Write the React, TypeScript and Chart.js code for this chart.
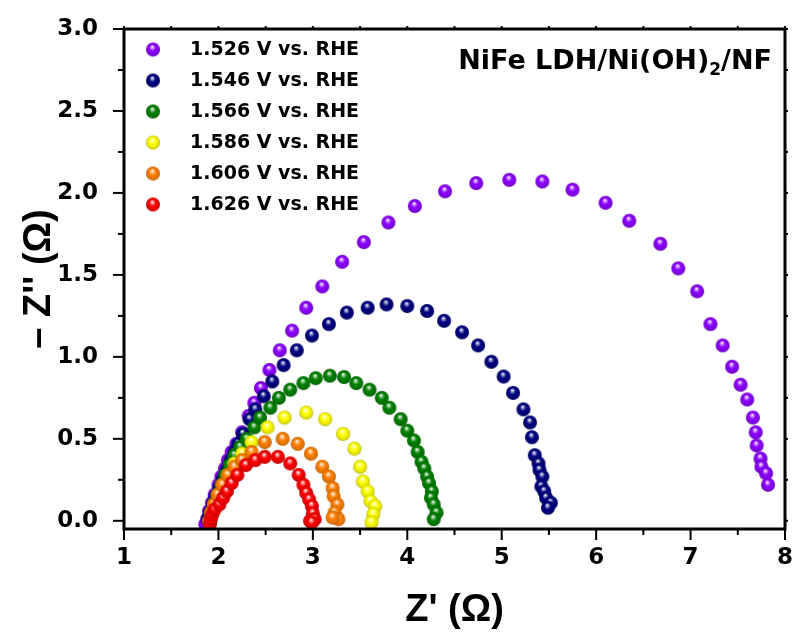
import React, { useEffect, useRef } from 'react';
import { Chart, registerables } from 'chart.js';
Chart.register(...registerables);

const SERIES_LABELS = ['1.526 V vs. RHE', '1.546 V vs. RHE', '1.566 V vs. RHE', '1.586 V vs. RHE', '1.606 V vs. RHE', '1.626 V vs. RHE'];
const SERIES_COLORS = ['#8C00FF', '#000080', '#008000', '#FFFF00', '#FF8000', '#FF0000'];

const V1526_X = [1.86,1.88,1.90,1.93,1.96,2.00,2.03,2.07,2.10,2.14,2.19,2.25,2.32,2.38,2.45,2.54,2.65,2.78,2.93,3.10,3.31,3.54,3.80,4.08,4.40,4.73,5.08,5.43,5.75,6.10,6.35,6.68,6.87,7.07,7.21,7.34,7.44,7.53,7.60,7.66,7.69,7.70,7.74,7.75,7.80,7.82];
const V1526_Y = [-0.02,0.01,0.06,0.11,0.16,0.22,0.27,0.32,0.37,0.42,0.47,0.54,0.64,0.72,0.81,0.92,1.04,1.16,1.30,1.43,1.58,1.70,1.82,1.92,2.01,2.06,2.08,2.07,2.02,1.94,1.83,1.69,1.54,1.40,1.20,1.07,0.94,0.83,0.74,0.63,0.54,0.46,0.38,0.33,0.29,0.22];

const V1546_X = [1.89,1.91,1.94,1.97,2.01,2.05,2.09,2.13,2.17,2.21,2.26,2.33,2.39,2.48,2.57,2.69,2.83,2.99,3.17,3.36,3.58,3.78,4.00,4.21,4.39,4.58,4.75,4.89,5.02,5.12,5.23,5.30,5.32,5.35,5.39,5.40,5.43,5.42,5.45,5.47,5.52,5.49];
const V1546_Y = [0.01,0.05,0.10,0.15,0.20,0.26,0.31,0.37,0.42,0.47,0.53,0.62,0.68,0.76,0.85,0.95,1.04,1.13,1.20,1.27,1.30,1.32,1.31,1.28,1.22,1.15,1.07,0.97,0.88,0.78,0.68,0.60,0.51,0.40,0.35,0.31,0.27,0.21,0.18,0.14,0.11,0.08];

const V1566_X = [1.90,1.92,1.95,1.99,2.03,2.07,2.12,2.17,2.23,2.30,2.38,2.44,2.55,2.64,2.76,2.90,3.03,3.18,3.33,3.46,3.60,3.73,3.81,3.93,4.00,4.07,4.11,4.15,4.18,4.21,4.23,4.26,4.25,4.28,4.31,4.28];
const V1566_Y = [0.00,0.05,0.10,0.16,0.22,0.28,0.34,0.40,0.45,0.50,0.57,0.63,0.69,0.75,0.80,0.84,0.87,0.885,0.877,0.84,0.80,0.75,0.69,0.62,0.55,0.49,0.42,0.36,0.32,0.27,0.23,0.18,0.14,0.10,0.05,0.01];

const V1586_X = [1.91,1.93,1.96,2.00,2.05,2.10,2.17,2.25,2.35,2.52,2.70,2.93,3.13,3.32,3.44,3.50,3.53,3.58,3.61,3.66,3.64,3.62];
const V1586_Y = [-0.01,0.04,0.09,0.15,0.22,0.28,0.35,0.41,0.48,0.57,0.63,0.66,0.62,0.53,0.44,0.33,0.24,0.18,0.12,0.09,0.04,-0.01];

const V1606_X = [1.90,1.92,1.95,1.99,2.04,2.10,2.17,2.25,2.35,2.49,2.68,2.84,2.98,3.10,3.17,3.21,3.22,3.26,3.23,3.27,3.21];
const V1606_Y = [0.00,0.05,0.10,0.16,0.22,0.28,0.33,0.37,0.42,0.48,0.50,0.47,0.41,0.33,0.27,0.20,0.15,0.10,0.05,0.01,0.02];

const V1626_X = [1.91,1.92,1.935,1.96,2.01,2.05,2.09,2.14,2.20,2.29,2.39,2.49,2.63,2.76,2.85,2.90,2.93,2.96,2.99,3.00,2.97,3.02,2.99];
const V1626_Y = [-0.02,0.01,0.04,0.07,0.10,0.14,0.18,0.23,0.28,0.34,0.37,0.39,0.39,0.35,0.28,0.22,0.17,0.13,0.09,0.045,0.00,0.01,-0.01];

const SERIES_X = [V1526_X, V1546_X, V1566_X, V1586_X, V1606_X, V1626_X];
const SERIES_Y = [V1526_Y, V1546_Y, V1566_Y, V1586_Y, V1606_Y, V1626_Y];

const X_TICKS = [1, 2, 3, 4, 5, 6, 7, 8];
const Y_TICKS = [0, 0.5, 1.0, 1.5, 2.0, 2.5, 3.0];
const X_TITLE = "Z' (\u03A9)";
const Y_TITLE = "\u2013 Z'' (\u03A9)";
const ANNOT_MAIN = 'NiFe LDH/Ni(OH)';
const ANNOT_SUB = '2';
const ANNOT_END = '/NF';

function hexToRgb(h: string) {
  const n = parseInt(h.slice(1), 16);
  return [(n >> 16) & 255, (n >> 8) & 255, n & 255];
}
function mix(h: string, t: number[], a: number) {
  const c = hexToRgb(h);
  return `rgb(${Math.round(c[0] + (t[0] - c[0]) * a)},${Math.round(c[1] + (t[1] - c[1]) * a)},${Math.round(c[2] + (t[2] - c[2]) * a)})`;
}
function makeSphere(color: string) {
  const size = 16;
  const c = document.createElement('canvas');
  c.width = size; c.height = size;
  const g = c.getContext('2d')!;
  const cx = size / 2, cy = size / 2, r = 7;
  const grad = g.createRadialGradient(cx - 0.8, cy - 2.8, 0.2, cx, cy, r);
  grad.addColorStop(0, '#ffffff');
  grad.addColorStop(0.16, mix(color, [255, 255, 255], 0.6));
  grad.addColorStop(0.45, color);
  grad.addColorStop(0.85, mix(color, [0, 0, 0], 0.12));
  grad.addColorStop(1, mix(color, [0, 0, 0], 0.3));
  g.fillStyle = grad;
  g.beginPath();
  g.arc(cx, cy, r, 0, Math.PI * 2);
  g.fill();
  return c;
}

const TICK_FONT = { family: "'DejaVu Sans', sans-serif", size: 23, weight: 'bold' as const };
const TITLE_FONT = { family: "'Liberation Sans', Arial, sans-serif", size: 38, weight: 'bold' as const };

export default function App() {
  const ref = useRef<HTMLCanvasElement>(null);
  useEffect(() => {
    const spheres = SERIES_COLORS.map(makeSphere);
    const datasets = SERIES_LABELS.map((label, i) => ({
      label,
      data: SERIES_X[i].map((x, j) => ({ x, y: SERIES_Y[i][j] })),
      pointStyle: spheres[i] as any,
      pointRadius: 7,
      showLine: false,
      order: SERIES_LABELS.length - i,
      backgroundColor: SERIES_COLORS[i],
      borderColor: SERIES_COLORS[i],
    }));

    const framePlugin = {
      id: 'frame',
      afterDraw(chart: any) {
        const { ctx, chartArea: a, scales } = chart;
        const xs = scales.x, ys = scales.y;
        ctx.save();
        ctx.strokeStyle = '#000';
        ctx.lineCap = 'butt';
        ctx.lineWidth = 2;
        for (let i = 0; i < X_TICKS.length; i++) {
          const v = X_TICKS[i];
          const px = xs.getPixelForValue(v);
          ctx.beginPath(); ctx.moveTo(px, a.bottom); ctx.lineTo(px, a.bottom + 11); ctx.stroke();
          ctx.beginPath(); ctx.moveTo(px, a.top); ctx.lineTo(px, a.top - 3); ctx.stroke();
          if (i < X_TICKS.length - 1) {
            const mx = xs.getPixelForValue((v + X_TICKS[i + 1]) / 2);
            ctx.beginPath(); ctx.moveTo(mx, a.bottom); ctx.lineTo(mx, a.bottom + 6); ctx.stroke();
            ctx.beginPath(); ctx.moveTo(mx, a.top); ctx.lineTo(mx, a.top - 3); ctx.stroke();
          }
        }
        for (let i = 0; i < Y_TICKS.length; i++) {
          const v = Y_TICKS[i];
          const py = ys.getPixelForValue(v);
          ctx.beginPath(); ctx.moveTo(a.left, py); ctx.lineTo(a.left - 11, py); ctx.stroke();
          ctx.beginPath(); ctx.moveTo(a.right, py); ctx.lineTo(a.right + 3, py); ctx.stroke();
          if (i < Y_TICKS.length - 1) {
            const my = ys.getPixelForValue((v + Y_TICKS[i + 1]) / 2);
            ctx.beginPath(); ctx.moveTo(a.left, my); ctx.lineTo(a.left - 6, my); ctx.stroke();
            ctx.beginPath(); ctx.moveTo(a.right, my); ctx.lineTo(a.right + 3, my); ctx.stroke();
          }
        }
        ctx.lineWidth = 3;
        ctx.strokeRect(a.left, a.top, a.right - a.left, a.bottom - a.top);

        // legend
        ctx.fillStyle = '#000';
        ctx.font = "bold 19px 'DejaVu Sans', sans-serif";
        ctx.textBaseline = 'middle';
        ctx.textAlign = 'left';
        SERIES_LABELS.forEach((lab, i) => {
          const y = 49.5 + 31 * i;
          ctx.drawImage(spheres[i], 153 - 8, y - 8);
          ctx.fillText(lab, 190, y + 1);
        });

        // annotation
        const mainFont = "bold 27px 'DejaVu Sans', sans-serif";
        const subFont = "bold 17px 'DejaVu Sans', sans-serif";
        ctx.textBaseline = 'alphabetic';
        ctx.font = mainFont;
        const w1 = ctx.measureText(ANNOT_MAIN).width;
        const w3 = ctx.measureText(ANNOT_END).width;
        ctx.font = subFont;
        const w2 = ctx.measureText(ANNOT_SUB).width;
        const right = 772, base = 69;
        const x0 = right - (w1 + w2 + w3);
        ctx.font = mainFont;
        ctx.fillText(ANNOT_MAIN, x0, base);
        ctx.font = subFont;
        ctx.fillText(ANNOT_SUB, x0 + w1, base + 6);
        ctx.font = mainFont;
        ctx.fillText(ANNOT_END, x0 + w1 + w2, base);
        ctx.restore();
      },
    };

    const chart = new Chart(ref.current!, {
      type: 'scatter',
      data: { datasets },
      options: {
        responsive: false,
        animation: false,
        devicePixelRatio: 1,
        layout: { padding: { top: 29, right: 10, left: 0, bottom: 0 } },
        plugins: { legend: { display: false }, tooltip: { enabled: false } },
        scales: {
          x: {
            type: 'linear',
            min: 1, max: 8,
            afterFit: (s: any) => { s.height = 108; s.paddingLeft = 0; s.paddingRight = 0; },
            afterBuildTicks: (s: any) => { s.ticks = X_TICKS.map((value) => ({ value })); },
            grid: { display: false },
            border: { display: false },
            ticks: { color: '#000', font: TICK_FONT, padding: 7, callback: (v: any) => String(v) },
            title: { display: true, text: X_TITLE, color: '#000', font: TITLE_FONT, padding: { top: 0, bottom: 4 } },
          },
          y: {
            type: 'linear',
            min: -0.05, max: 3.0,
            afterFit: (s: any) => { s.width = 124; s.paddingTop = 0; s.paddingBottom = 0; },
            afterBuildTicks: (s: any) => { s.ticks = Y_TICKS.map((value) => ({ value })); },
            grid: { display: false },
            border: { display: false },
            ticks: { color: '#000', font: TICK_FONT, padding: 18, callback: (v: any) => Number(v).toFixed(1) },
            title: { display: true, text: Y_TITLE, color: '#000', font: TITLE_FONT, padding: { top: 17, bottom: 0 } },
          },
        },
      },
      plugins: [framePlugin],
    });
    return () => chart.destroy();
  }, []);
  return (
    <div style={{ position: 'absolute', left: 0, top: 0, width: 795, height: 637, background: '#fff' }}>
      <canvas ref={ref} width={795} height={637} style={{ display: 'block', width: 795, height: 637 }} />
    </div>
  );
}
